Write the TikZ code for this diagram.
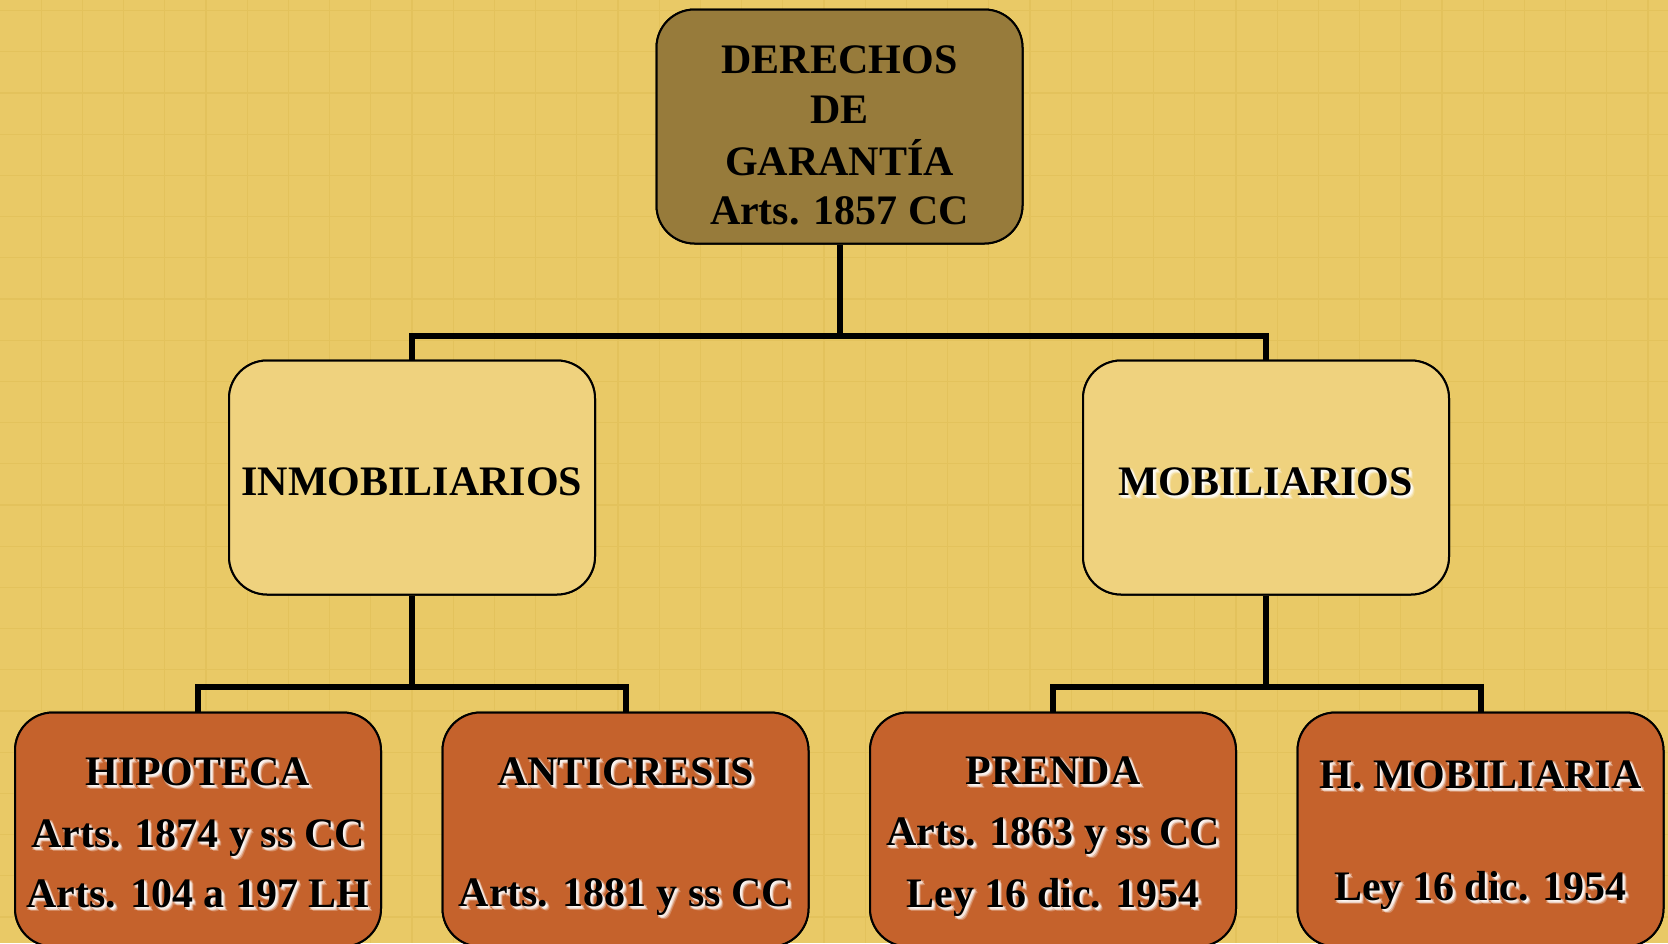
\documentclass[tikz,border=0pt]{standalone}
\usepackage{fontspec}
\setmainfont{Liberation Serif}
\definecolor{bgc}{HTML}{E9C966}
\definecolor{gridc}{HTML}{E3C25C}
\definecolor{topc}{HTML}{977B3B}
\definecolor{midc}{HTML}{EFD27E}
\definecolor{botc}{HTML}{C5622C}
\tikzset{
  box/.style={draw=black, line width=2pt, rounded corners=38pt, inner sep=0pt,
    minimum width=366pt, minimum height=234pt},
  topbox/.style={box, fill=topc},
  midbox/.style={box, fill=midc},
  botbox/.style={box, fill=botc},
  txt/.style={anchor=base, inner sep=0pt, font=\fontsize{42}{50}\selectfont\bfseries},
  link/.style={line width=6pt, line join=miter},
}
\newcommand\plainline[3]{\node[txt] at (#1,#2) {#3};}
\newcommand\shline[3]{%
  \foreach \dx/\dy/\op in {1/1/0.5,2/2/0.6,3/3/0.45,4/4/0.25,1/3/0.3,3/1/0.3}
    {\node[txt,white,opacity=\op] at (#1+\dx,#2+\dy) {#3};}
  \node[txt] at (#1,#2) {#3};}
\begin{document}
\begin{tikzpicture}[x=1pt,y=-1pt]
\fill[bgc] (0,0) rectangle (1668,943);
\useasboundingbox (0,0) rectangle (1668,943);
\foreach \i in {1,...,40} {\draw[gridc, line width=1.2pt] (41.2*\i,0) -- (41.2*\i,943);}
\foreach \j in {0,...,22} {\draw[gridc, line width=1.2pt] (0,10.5+41.2*\j) -- (1668,10.5+41.2*\j);}

\node[topbox] (top) at (839.5,126.5) {};
\node[midbox] (inm) at (412,477.5) {};
\node[midbox] (mob) at (1266,477.5) {};
\node[botbox] (hip) at (198,829.5) {};
\node[botbox] (ant) at (625.5,829.5) {};
\node[botbox] (pre) at (1053,829.5) {};
\node[botbox] (hmo) at (1480.5,829.5) {};

\coordinate (j1) at (839.5,336);
\coordinate (j2) at (412,687);
\coordinate (j3) at (1266,687);
\draw[link] (top.south) -- (j1) -| (inm.north);
\draw[link] (j1) -| (mob.north);
\draw[link] (inm.south) -- (j2) -| (hip.north);
\draw[link] (j2) -| (ant.north);
\draw[link] (mob.south) -- (j3) -| (pre.north);
\draw[link] (j3) -| (hmo.north);
% boxes again, above the connector ends
\node[topbox] at (top) {};
\node[midbox] at (inm) {};
\node[midbox] at (mob) {};
\node[botbox] at (hip) {};
\node[botbox] at (ant) {};
\node[botbox] at (pre) {};
\node[botbox] at (hmo) {};

% texts
\plainline{839.5}{73}{DERECHOS}
\plainline{839.5}{123}{DE}
\plainline{839.5}{175}{GARANTÍA}
\plainline{839.5}{224}{Arts. 1857 CC}

\plainline{412}{495}{INMOBILIARIOS}
\shline{1266}{495}{MOBILIARIOS}

\shline{198}{785}{HIPOTECA}
\shline{198}{847}{Arts. 1874 y ss CC}
\shline{198}{907}{Arts. 104 a 197 LH}

\shline{625.5}{785}{ANTICRESIS}
\shline{625.5}{906}{Arts. 1881 y ss CC}

\shline{1053}{784}{PRENDA}
\shline{1053}{845}{Arts. 1863 y ss CC}
\shline{1053}{907}{Ley 16 dic. 1954}

\shline{1480.5}{788}{H. MOBILIARIA}
\shline{1480.5}{900}{Ley 16 dic. 1954}
\end{tikzpicture}
\end{document}
